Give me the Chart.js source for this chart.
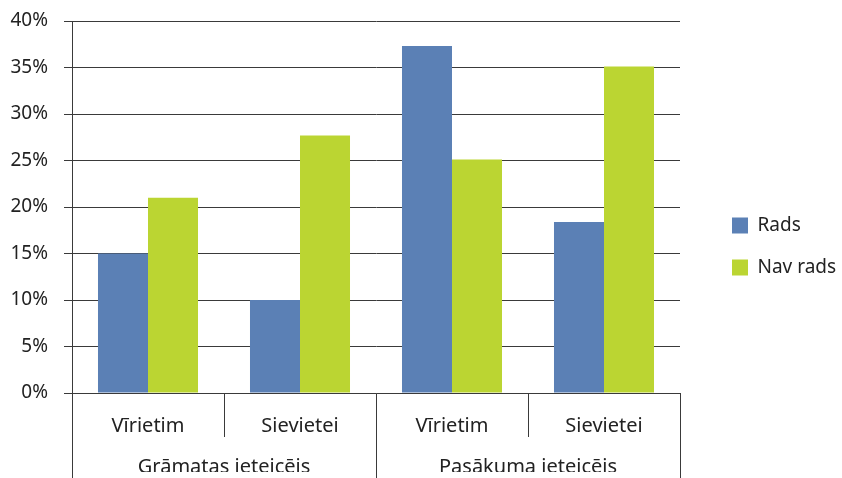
<!DOCTYPE html>
<html>
<head>
<meta charset="utf-8">
<script src="https://cdn.jsdelivr.net/npm/chart.js@4/dist/chart.umd.min.js"></script>
<style>
    body { margin: 0; background: #fff; }
</style>
</head>
<body>
<canvas id="myChart" width="842" height="478"></canvas>
<script>
var categories = ['Vīrietim', 'Sievietei', 'Vīrietim', 'Sievietei'];
var groups = ['Grāmatas ieteicējs', 'Pasākuma ieteicējs'];
var radsValues = [15, 10, 37.3, 18.4];
var navRadsValues = [21, 27.7, 25.1, 35.1];
var yTicks = [0, 5, 10, 15, 20, 25, 30, 35, 40];

var lineColor = '#3a3a3a';
var textColor = '#222';

Chart.defaults.font.family = '"Noto Sans", sans-serif';
Chart.defaults.color = textColor;

const data = {
    labels: categories,
    datasets: [
        {
            label: 'Rads',
            data: radsValues,
            backgroundColor: '#5b80b5'
        },
        {
            label: 'Nav rads',
            data: navRadsValues,
            backgroundColor: '#bbd532'
        }
    ]
};

const config = {
    type: 'bar',
    data: data,
    options: {
        responsive: false,
        animation: false,
        layout: {
            padding: { top: 21, right: 0, bottom: 6, left: 0 }
        },
        datasets: {
            bar: {
                categoryPercentage: 0.658,
                barPercentage: 1
            }
        },
        plugins: {
            tooltip: { enabled: false },
            legend: {
                position: 'right',
                maxWidth: 133,
                labels: {
                    boxWidth: 16,
                    boxHeight: 16,
                    padding: 23,
                    font: { size: 19 }
                }
            }
        },
        scales: {
            x: {
                position: 'bottom',
                grid: {
                    offset: true,
                    drawOnChartArea: false,
                    tickLength: 44,
                    color: lineColor
                },
                border: { color: lineColor },
                ticks: {
                    padding: -23,
                    maxRotation: 0,
                    font: { size: 20 }
                },
                afterFit: function(scale) {
                    scale.height = 44;
                }
            },
            x2: {
                type: 'category',
                position: 'bottom',
                labels: groups,
                grid: {
                    offset: true,
                    drawOnChartArea: false,
                    tickLength: 45,
                    color: lineColor
                },
                border: { display: false },
                ticks: {
                    padding: -27,
                    maxRotation: 0,
                    font: { size: 20 }
                },
                afterFit: function(scale) {
                    scale.height = 35;
                }
            },
            y: {
                min: 0,
                max: 40,
                afterBuildTicks: function(scale) {
                    scale.ticks = yTicks.map(function(v) { return { value: v }; });
                },
                grid: {
                    color: lineColor,
                    tickLength: 8
                },
                border: { color: lineColor },
                ticks: {
                    padding: 16,
                    font: { size: 19 },
                    callback: function(value) {
                        return value + '%';
                    }
                },
                afterFit: function(scale) {
                    scale.width = 72;
                    // top label may stick out, layout padding handles it
                    scale.paddingTop = 0;
                    scale.paddingBottom = 0;
                }
            },
            // empty axis that keeps the gap between plot and legend
            gap: {
                type: 'linear',
                position: 'right',
                grid: { display: false },
                border: { display: false },
                ticks: { display: false },
                afterFit: function(scale) {
                    scale.width = 29;
                }
            }
        }
    }
};

const myChart = new Chart(
    document.getElementById('myChart'),
    config
);
</script>
</body>
</html>
